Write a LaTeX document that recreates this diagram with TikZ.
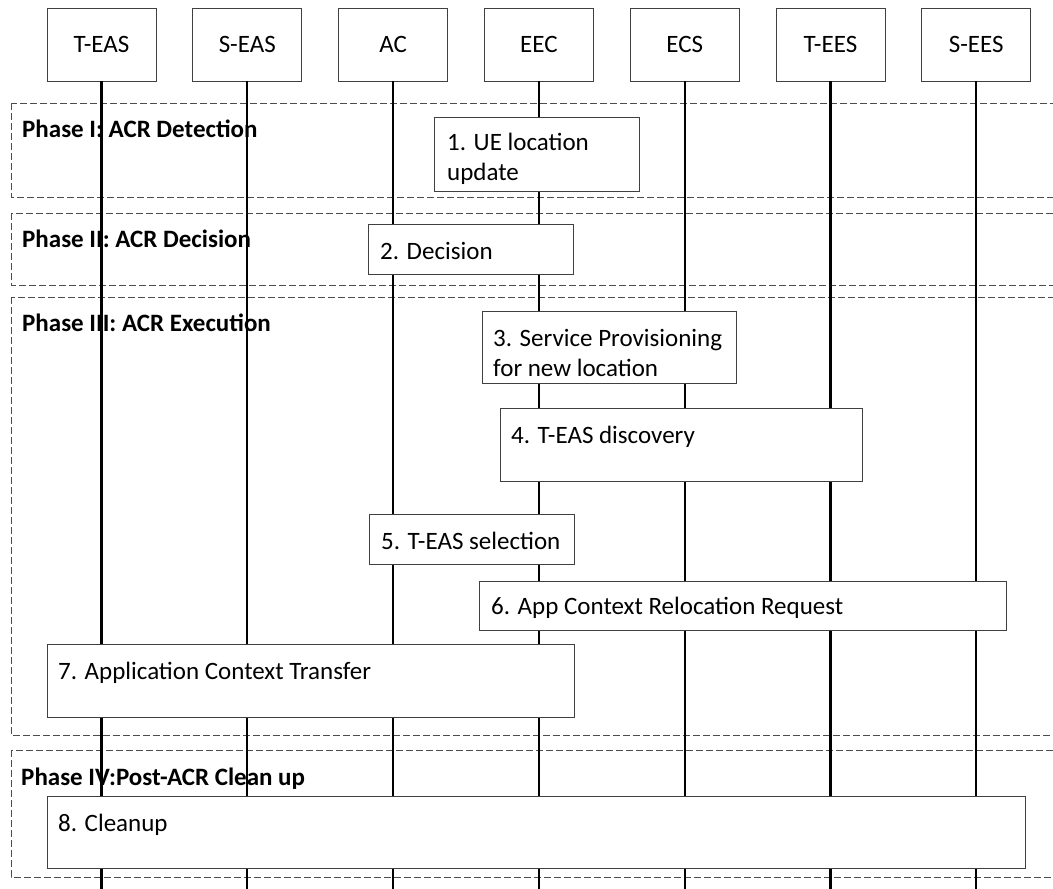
\documentclass[tikz,border=0pt]{standalone}
\usepackage{fontspec}
\setmainfont{Carlito}
\usetikzlibrary{positioning}

\begin{document}
\begin{tikzpicture}[x=1pt, y=-1pt,
    entity/.style={draw=black!75, fill=white, line width=0.8pt, minimum width=109pt, minimum height=73pt, inner sep=0pt, font=\fontsize{25}{30}\selectfont},
    phasebox/.style={draw=black!70, dash pattern=on 7pt off 3pt, line width=0.8pt},
    phaselabel/.style={anchor=base west, inner sep=0pt, font=\fontsize{25}{30}\selectfont\bfseries},
    stepbox/.style={draw=black!75, fill=white, line width=0.8pt, anchor=north west, inner sep=0pt},
    steptext/.style={anchor=base west, inner sep=0pt, align=left, font=\fontsize{25}{30}\selectfont},
    life/.style={line width=2.2pt}]
        \useasboundingbox (0,0) rectangle (1053,889);
        
        % phases
        \draw[phasebox] (11,103) rectangle (1070,197);
        \draw[phasebox] (11,213) rectangle (1070,285);
        \draw[phasebox] (11,297) rectangle (1070,735);
        \draw[phasebox] (11,750) rectangle (1070,877);
        \node[phaselabel] (p1) at (22,137) {Phase I: ACR Detection};
        \node[phaselabel] (p2) at (22,247) {Phase II: ACR Decision};
        \node[phaselabel] (p3) at (22,331) {Phase III: ACR Execution};
        \node[phaselabel] (p4) at (21,785) {Phase IV:Post-ACR Clean up};
        
        % entities
        \node[entity] (teas) at (101.5,44.5) {T-EAS};
        \node[entity, right=36pt of teas] (seas) {S-EAS};
        \node[entity, right=36pt of seas] (ac) {AC};
        \node[entity, right=36pt of ac] (eec) {EEC};
        \node[entity, right=36pt of eec] (ecs) {ECS};
        \node[entity, right=36pt of ecs] (tees) {T-EES};
        \node[entity, right=36pt of tees] (sees) {S-EES};
        
        \coordinate (bottom) at (0,889);
        \foreach \n in {teas,seas,ac,eec,ecs,tees,sees}
            \draw[life] (\n.south) -- (\n.south |- bottom);
        
        % steps (two-line texts sit on their last baseline)
        \node[stepbox, minimum width=205pt, minimum height=74pt] (s1) at (434,117) {};
        \node[steptext] (t1) at ([shift={(13,63)}]s1.north west) {1. UE location\\update};
        \node[stepbox, minimum width=205pt, minimum height=50pt] (s2) at (368,224) {};
        \node[steptext] (t2) at ([shift={(12,35)}]s2.north west) {2. Decision};
        \node[stepbox, minimum width=254pt, minimum height=72pt] (s3) at (482,311) {};
        \node[steptext] (t3) at ([shift={(11,65)}]s3.north west) {3. Service Provisioning\\for new location};
        \node[stepbox, minimum width=362pt, minimum height=73pt] (s4) at (500,408) {};
        \node[steptext] (t4) at ([shift={(11,35)}]s4.north west) {4. T-EAS discovery};
        \node[stepbox, minimum width=205pt, minimum height=50pt] (s5) at (369,514) {};
        \node[steptext] (t5) at ([shift={(12,35)}]s5.north west) {5. T-EAS selection};
        \node[stepbox, minimum width=527pt, minimum height=49pt] (s6) at (479,581) {};
        \node[steptext] (t6) at ([shift={(12,33)}]s6.north west) {6. App Context Relocation Request};
        \node[stepbox, minimum width=527pt, minimum height=73pt] (s7) at (47,644) {};
        \node[steptext] (t7) at ([shift={(11,35)}]s7.north west) {7. Application Context Transfer};
        \node[stepbox, minimum width=978pt, minimum height=72pt] (s8) at (47,796) {};
        \node[steptext] (t8) at ([shift={(11,35)}]s8.north west) {8. Cleanup};
    \end{tikzpicture}
\end{document}
